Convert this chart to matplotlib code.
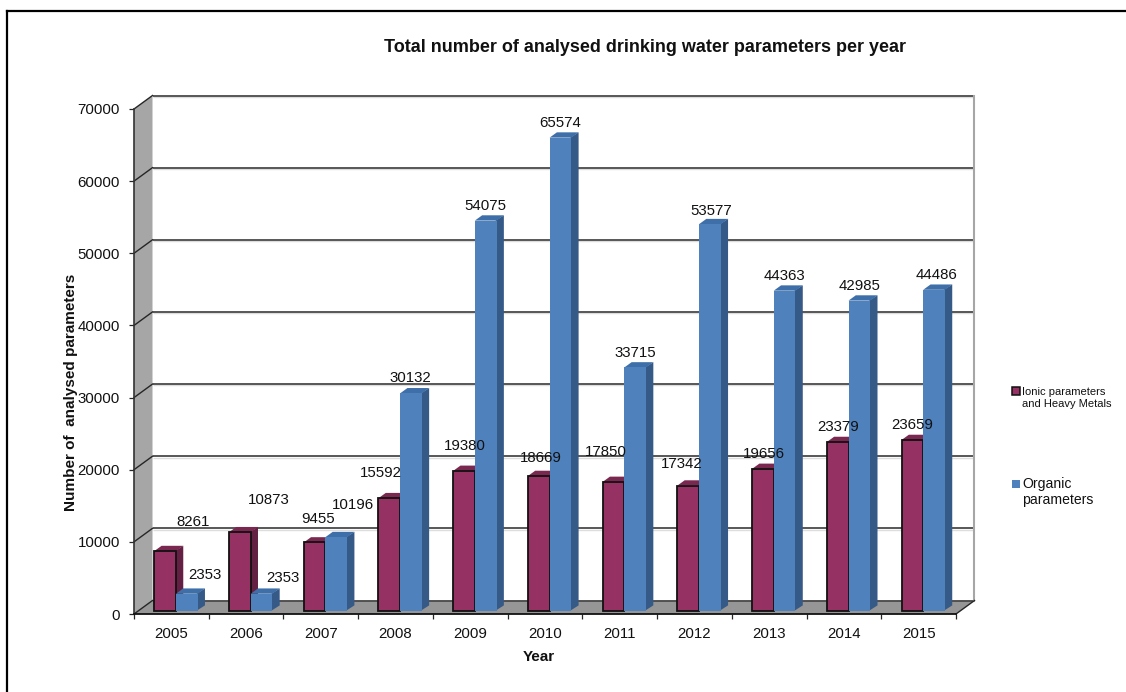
import matplotlib
matplotlib.use("Agg")
import matplotlib.pyplot as plt
from matplotlib.patches import Polygon, Patch
from matplotlib.lines import Line2D

plt.rcParams['font.family'] = ['Liberation Sans', 'DejaVu Sans']

years = [2005, 2006, 2007, 2008, 2009, 2010, 2011, 2012, 2013, 2014, 2015]
ionic = [8261, 10873, 9455, 15592, 19380, 18669, 17850, 17342, 19656, 23379, 23659]
organic = [2353, 2353, 10196, 30132, 54075, 65574, 33715, 53577, 44363, 42985, 44486]
y_ticks = [0, 10000, 20000, 30000, 40000, 50000, 60000, 70000]
title = "Total number of analysed drinking water parameters per year"
y_title = "Number of  analysed parameters"
x_title = "Year"
legend_labels = ["Ionic parameters\nand Heavy Metals", "Organic\nparameters"]

# label offsets from the bar-top centre, in pixels (x, y up)
ionic_off = [(28, 29), (29, 32), (3, 23), (-8, 25), (1, 25), (2, 18), (-8, 30), (-6, 22), (1, 15), (0, 15), (0, 15)]
organic_off = [(18, 19), (21, 16), (17, 32), (-1, 15), (0, 15), (0, 15), (0, 14), (1, 13), (0, 15), (0, 15), (2, 15)]

W, H = 1126, 692
L, R, T, B = 134, 956, 109, 614
fig = plt.figure(figsize=(W / 100, H / 100), dpi=100, facecolor='white')
ax = fig.add_axes([L / W, 1 - B / H, (R - L) / W, (B - T) / H])
ax.set_xlim(0, len(years))
ax.set_ylim(0, 70000)
ax.patch.set_alpha(0)
for s in ax.spines.values():
    s.set_visible(False)

px_x = len(years) / (R - L)
px_y = 70000 / (B - T)
wall_dx, wall_dy = 18.5 * px_x, 13.5 * px_y
xmax = len(years)

# walls and floor
ax.add_patch(Polygon([(0, 0), (wall_dx, wall_dy), (wall_dx, 70000 + wall_dy), (0, 70000)],
                     closed=True, fc='#A6A6A6', ec='none', zorder=1, clip_on=False))
ax.add_patch(Polygon([(0, 0), (wall_dx, wall_dy), (xmax + wall_dx, wall_dy), (xmax, 0)],
                     closed=True, fc='#969696', ec='none', zorder=1, clip_on=False))
# grid on back wall with left-wall diagonals
for v in y_ticks:
    if v:
        ax.plot([wall_dx, xmax + wall_dx], [v + wall_dy - 1.3 * px_y] * 2, color='#DDDDDD', lw=1.0, zorder=1.5,
                clip_on=False, solid_capstyle='butt')
    ax.plot([wall_dx, xmax + wall_dx], [v + wall_dy] * 2, color='#4A4A4A', lw=1.3, zorder=2,
            clip_on=False, solid_capstyle='butt')
    ax.plot([0, wall_dx], [v, v + wall_dy], color='#262626', lw=1.0, zorder=2, clip_on=False)
ax.plot([xmax + wall_dx] * 2, [wall_dy, 70000 + wall_dy], color='#A6A6A6', lw=1.5, zorder=2, clip_on=False)
ax.plot([xmax, xmax + wall_dx], [0, wall_dy], color='#262626', lw=1.0, zorder=2, clip_on=False)
ax.plot([0, 0], [0, 70000], color='#333333', lw=1.2, zorder=2.5, clip_on=False)
ax.plot([0, xmax], [0, 0], color='#111111', lw=1.3, zorder=2.5, clip_on=False)

# bars
bw = 21.7 * px_x
bx0 = 4.6 * px_x
by0 = 3.3 * px_y
ddx, ddy = 7.3 * px_x, 5.3 * px_y
seam = 1.0 * px_x


def draw(i, v, xc, face, side, top, edge):
    xl, xr = xc - bw / 2, xc + bw / 2
    z = 3 + i * 0.01
    ax.add_patch(Polygon([(xr - seam, by0), (xr + ddx, by0 + ddy), (xr + ddx, by0 + v + ddy), (xr - seam, by0 + v)],
                         closed=True, fc=side, ec='none', zorder=z, clip_on=False))
    ax.add_patch(Polygon([(xl, by0 + v - seam), (xl + ddx, by0 + v + ddy), (xr + ddx, by0 + v + ddy),
                          (xr, by0 + v - seam)],
                         closed=True, fc=top, ec='none', zorder=z, clip_on=False))
    ax.bar([xc], [v], width=bw, bottom=by0, color=face, edgecolor=edge,
           linewidth=1.3 if edge != 'none' else 0, zorder=z + 0.002, clip_on=False)


for i in range(len(years)):
    xc = i + 0.5 + bx0
    draw(i, ionic[i], xc - bw / 2, '#953163', '#632042', '#7A2850', '#111111')
    draw(i + 0.5, organic[i], xc + bw / 2, '#4F81BD', '#355A88', '#3F6FA8', 'none')
    ax.annotate(str(ionic[i]), xy=(xc - bw / 2, ionic[i] + by0), xytext=ionic_off[i], textcoords='offset pixels',
                ha='center', va='center', fontsize=10.8, color='#111111', zorder=6, annotation_clip=False)
    ax.annotate(str(organic[i]), xy=(xc + bw / 2, organic[i] + by0), xytext=organic_off[i],
                textcoords='offset pixels', ha='center', va='center', fontsize=10.8, color='#111111', zorder=6,
                annotation_clip=False)

# axes ticks
ax.set_yticks(y_ticks)
ax.set_yticklabels([str(v) for v in y_ticks], fontsize=10.8, color='#111111')
ax.set_xticks(range(len(years) + 1))
ax.set_xticklabels([])
ax.set_xticks([i + 0.5 for i in range(len(years))], minor=True)
ax.set_xticklabels([str(y) for y in years], minor=True, fontsize=10.8, color='#111111')
ax.tick_params(axis='y', length=3.6, width=0.9, color='#262626', pad=6.6)
ax.tick_params(axis='x', which='major', length=3.6, width=0.9, color='#262626')
ax.tick_params(axis='x', which='minor', length=0, pad=9)

fig.text(645 / W, 1 - 47 / H, title, ha='center', va='center', fontsize=13.0, fontweight='bold', color='#111111')
fig.text(71 / W, 1 - 392.5 / H, y_title, rotation=90, ha='center', va='center', fontsize=11.0, fontweight='bold',
         color='#111111')
fig.text(539 / W, 1 - 657 / H, x_title, ha='center', va='center', fontsize=11.0, fontweight='bold', color='#111111')

# legend
handles = [Patch(fc='#953163', ec='#111111', lw=1.1), Patch(fc='#4F81BD', ec='none')]
leg = fig.legend(handles, legend_labels, loc='upper left', bbox_to_anchor=(1012 / W, 1 - 387 / H), frameon=False,
                 fontsize=8.0, handlelength=0.68, handleheight=0.72, handletextpad=0.25, labelspacing=6.15,
                 borderpad=0, borderaxespad=0)
leg.get_texts()[1].set_fontsize(10.1)
for t in leg.get_texts():
    t.set_color('#111111')
leg.legend_handles[0].set_y(leg.legend_handles[0].get_y() + 5.0)
leg.legend_handles[1].set_y(leg.legend_handles[1].get_y() + 7.2)

# outer frame
fig.add_artist(Line2D([7 / W, 7 / W], [0, 1 - 11 / H], color='black', lw=1.6, transform=fig.transFigure))
fig.add_artist(Line2D([7 / W, 1], [1 - 11 / H, 1 - 11 / H], color='black', lw=1.6, transform=fig.transFigure))

fig.savefig('out.png', dpi=100)
